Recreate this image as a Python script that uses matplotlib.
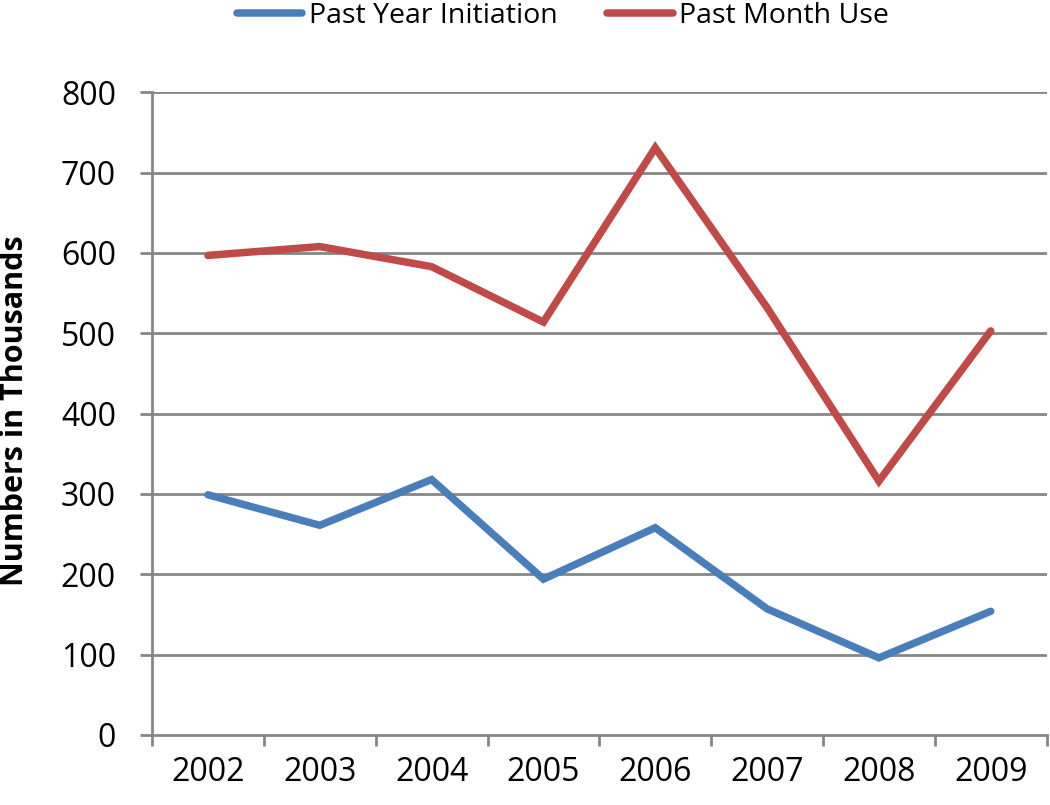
import numpy as np
import matplotlib.pyplot as plt

years = ['2002', '2003', '2004', '2005', '2006', '2007', '2008', '2009']
past_year_initiation = [299, 261, 318, 194, 258, 157, 96, 154]
past_month_use = [597, 608, 583, 514, 731, 532, 316, 503]

plt.rcParams['font.family'] = ['Open Sans', 'DejaVu Sans']

fig = plt.figure(figsize=(10.5, 8.05), dpi=100)
ax = fig.add_axes([0.1448, 0.087, 0.852, 0.7983])

x = np.arange(len(years))
grid_color = '#868686'

for v in range(100, 900, 100):
    ax.axhline(v, color=grid_color, lw=2, zorder=1)

ax.plot(x, past_year_initiation, color='#4A7EBB', lw=5.4, solid_capstyle='round',
        solid_joinstyle='miter', label='Past Year Initiation', zorder=3)
ax.plot(x, past_month_use, color='#BE4B48', lw=5.4, solid_capstyle='round',
        solid_joinstyle='miter', label='Past Month Use', zorder=3)

ax.set_xlim(-0.5, len(years) - 0.5)
ax.set_ylim(0, 800)
ax.set_yticks(range(0, 900, 100))
ax.tick_params(axis='y', labelsize=23, length=9, width=2, color=grid_color, pad=17)

# category boundaries as major ticks, labels centered on minor ticks
ax.set_xticks(np.arange(-0.5, len(years), 1.0))
ax.set_xticklabels([])
ax.set_xticks(x, minor=True)
ax.set_xticklabels(years, minor=True)
ax.tick_params(axis='x', which='major', length=8, width=2, color=grid_color)
ax.tick_params(axis='x', which='minor', length=0, labelsize=23, pad=15)

for s in ['top', 'right']:
    ax.spines[s].set_visible(False)
for s in ['left', 'bottom']:
    ax.spines[s].set_color(grid_color)
    ax.spines[s].set_linewidth(2)

ax.set_ylabel('Numbers in Thousands', fontsize=22, fontweight='bold')
ax.yaxis.set_label_coords(-0.136, 0.505)

fig.legend(loc='center left', bbox_to_anchor=(0.2257, 1 - 16 / 805), ncol=2,
           frameon=False, fontsize=20.5, handlelength=2.3, handletextpad=0.22,
           columnspacing=1.75, borderpad=0, borderaxespad=0)

fig.savefig('out.png', dpi=100)
